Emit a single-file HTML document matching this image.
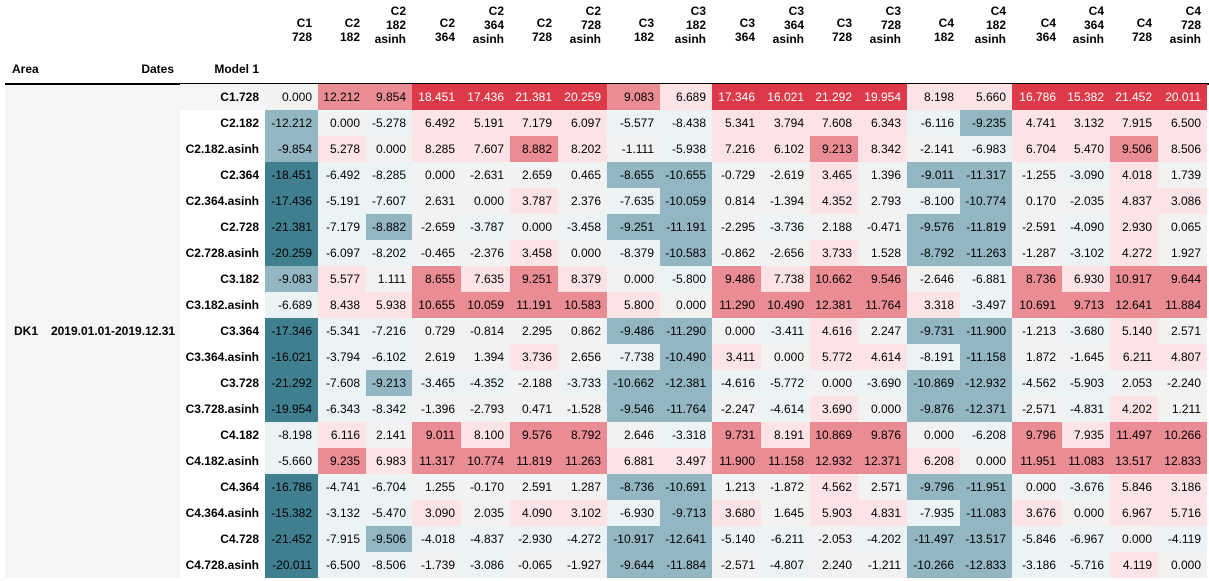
<!DOCTYPE html>
<html><head><meta charset="utf-8">
<style>
body{margin:0;background:#fff;width:1209px;height:581px;overflow:hidden;font-family:"Liberation Sans",Arial,sans-serif;font-size:12px;color:#000;position:relative}
.a{position:absolute;box-sizing:border-box}
.h{font-weight:bold;text-align:right;line-height:14px}
.c{height:26px;line-height:26px;text-align:right;padding-right:6px}
.l{height:26px;line-height:26px;text-align:right;font-weight:bold;padding-right:6px}
</style></head><body>
<div id="root"></div>
<script>
const colLabels=[["C1","728"],["C2","182"],["C2","182","asinh"],["C2","364"],["C2","364","asinh"],["C2","728"],["C2","728","asinh"],["C3","182"],["C3","182","asinh"],["C3","364"],["C3","364","asinh"],["C3","728"],["C3","728","asinh"],["C4","182"],["C4","182","asinh"],["C4","364"],["C4","364","asinh"],["C4","728"],["C4","728","asinh"]];
const rowLabels=["C1.728","C2.182","C2.182.asinh","C2.364","C2.364.asinh","C2.728","C2.728.asinh","C3.182","C3.182.asinh","C3.364","C3.364.asinh","C3.728","C3.728.asinh","C4.182","C4.182.asinh","C4.364","C4.364.asinh","C4.728","C4.728.asinh"];
const values=[
[0.000,12.212,9.854,18.451,17.436,21.381,20.259,9.083,6.689,17.346,16.021,21.292,19.954,8.198,5.660,16.786,15.382,21.452,20.011],
[-12.212,0.000,-5.278,6.492,5.191,7.179,6.097,-5.577,-8.438,5.341,3.794,7.608,6.343,-6.116,-9.235,4.741,3.132,7.915,6.500],
[-9.854,5.278,0.000,8.285,7.607,8.882,8.202,-1.111,-5.938,7.216,6.102,9.213,8.342,-2.141,-6.983,6.704,5.470,9.506,8.506],
[-18.451,-6.492,-8.285,0.000,-2.631,2.659,0.465,-8.655,-10.655,-0.729,-2.619,3.465,1.396,-9.011,-11.317,-1.255,-3.090,4.018,1.739],
[-17.436,-5.191,-7.607,2.631,0.000,3.787,2.376,-7.635,-10.059,0.814,-1.394,4.352,2.793,-8.100,-10.774,0.170,-2.035,4.837,3.086],
[-21.381,-7.179,-8.882,-2.659,-3.787,0.000,-3.458,-9.251,-11.191,-2.295,-3.736,2.188,-0.471,-9.576,-11.819,-2.591,-4.090,2.930,0.065],
[-20.259,-6.097,-8.202,-0.465,-2.376,3.458,0.000,-8.379,-10.583,-0.862,-2.656,3.733,1.528,-8.792,-11.263,-1.287,-3.102,4.272,1.927],
[-9.083,5.577,1.111,8.655,7.635,9.251,8.379,0.000,-5.800,9.486,7.738,10.662,9.546,-2.646,-6.881,8.736,6.930,10.917,9.644],
[-6.689,8.438,5.938,10.655,10.059,11.191,10.583,5.800,0.000,11.290,10.490,12.381,11.764,3.318,-3.497,10.691,9.713,12.641,11.884],
[-17.346,-5.341,-7.216,0.729,-0.814,2.295,0.862,-9.486,-11.290,0.000,-3.411,4.616,2.247,-9.731,-11.900,-1.213,-3.680,5.140,2.571],
[-16.021,-3.794,-6.102,2.619,1.394,3.736,2.656,-7.738,-10.490,3.411,0.000,5.772,4.614,-8.191,-11.158,1.872,-1.645,6.211,4.807],
[-21.292,-7.608,-9.213,-3.465,-4.352,-2.188,-3.733,-10.662,-12.381,-4.616,-5.772,0.000,-3.690,-10.869,-12.932,-4.562,-5.903,2.053,-2.240],
[-19.954,-6.343,-8.342,-1.396,-2.793,0.471,-1.528,-9.546,-11.764,-2.247,-4.614,3.690,0.000,-9.876,-12.371,-2.571,-4.831,4.202,1.211],
[-8.198,6.116,2.141,9.011,8.100,9.576,8.792,2.646,-3.318,9.731,8.191,10.869,9.876,0.000,-6.208,9.796,7.935,11.497,10.266],
[-5.660,9.235,6.983,11.317,10.774,11.819,11.263,6.881,3.497,11.900,11.158,12.932,12.371,6.208,0.000,11.951,11.083,13.517,12.833],
[-16.786,-4.741,-6.704,1.255,-0.170,2.591,1.287,-8.736,-10.691,1.213,-1.872,4.562,2.571,-9.796,-11.951,0.000,-3.676,5.846,3.186],
[-15.382,-3.132,-5.470,3.090,2.035,4.090,3.102,-6.930,-9.713,3.680,1.645,5.903,4.831,-7.935,-11.083,3.676,0.000,6.967,5.716],
[-21.452,-7.915,-9.506,-4.018,-4.837,-2.930,-4.272,-10.917,-12.641,-5.140,-6.211,-2.053,-4.202,-11.497,-13.517,-5.846,-6.967,0.000,-4.119],
[-20.011,-6.500,-8.506,-1.739,-3.086,-0.065,-1.927,-9.644,-11.884,-2.571,-4.807,2.240,-1.211,-10.266,-12.833,-3.186,-5.716,4.119,0.000]];
const colW=[53,48,46,49,49,48,49,53,52,49,49,48,49,53,52,50,48,48,49];
const root=document.getElementById('root');
const X0=265,Y0=84,RH=26;
function mk(cls,x,y,w,h,txt,css){const d=document.createElement('div');d.className='a '+cls;d.style.left=x+'px';d.style.top=y+'px';d.style.width=w+'px';if(h)d.style.height=h+'px';if(css)Object.assign(d.style,css);d.innerHTML=txt;root.appendChild(d);return d;}
function color(v){const a=Math.abs(v);
 if(a<2.86)return['#f2f2f2','#000'];
 if(v>0){if(a<8.58)return['#fbe3e6','#000'];if(a<14.3)return['#ea8c93','#000'];return['#dc3a48','#fff'];}
 if(a<8.58)return['#ebf3f5','#000'];if(a<14.3)return['#93b7c2','#000'];return['#3f7f8f','#000'];}
// area cell
let e=mk('',5,Y0,175,RH*19,'',{background:'#f5f5f5'});


e=mk('',0,Y0+9*RH,46,RH,'DK1',{fontWeight:'bold',lineHeight:'26px',textAlign:'center',left:'8px',width:'36px'});


e=mk('',48,Y0+9*RH,130,RH,'2019.01.01-2019.12.31',{fontWeight:'bold',lineHeight:'26px',textAlign:'center'});


e=mk('',12,62,60,16,'Area',{fontWeight:'bold'});


e=mk('h',100,62,74,16,'Dates');


e=mk('h',180,62,79,16,'Model 1');


e=mk('',5,83,1204,1,'',{background:'#000',height:'1.5px'});


let x=X0;
colLabels.forEach((lab,j)=>{
 const h=lab.length*14;
 const d=mk('h',x,46-h+(lab.length==3?0:0)+ (lab.length==2?-2:0),colW[j]-6,h,lab.join('<br>'));
 
 
 x+=colW[j];
});
rowLabels.forEach((r,i)=>{
 const y=Y0+i*RH;
 const d=mk('l',180,y,85,RH,r,i==0?{background:'#f5f5f5'}:{background:'#fff'});
 
 
 let xx=X0;
 values[i].forEach((v,j)=>{
  const [bg,fg]=color(v);
  const c=mk('c',xx,y,colW[j],RH,v.toFixed(3),{background:bg,color:fg});
  
  
  xx+=colW[j];
 });
});
</script>
</body></html>
